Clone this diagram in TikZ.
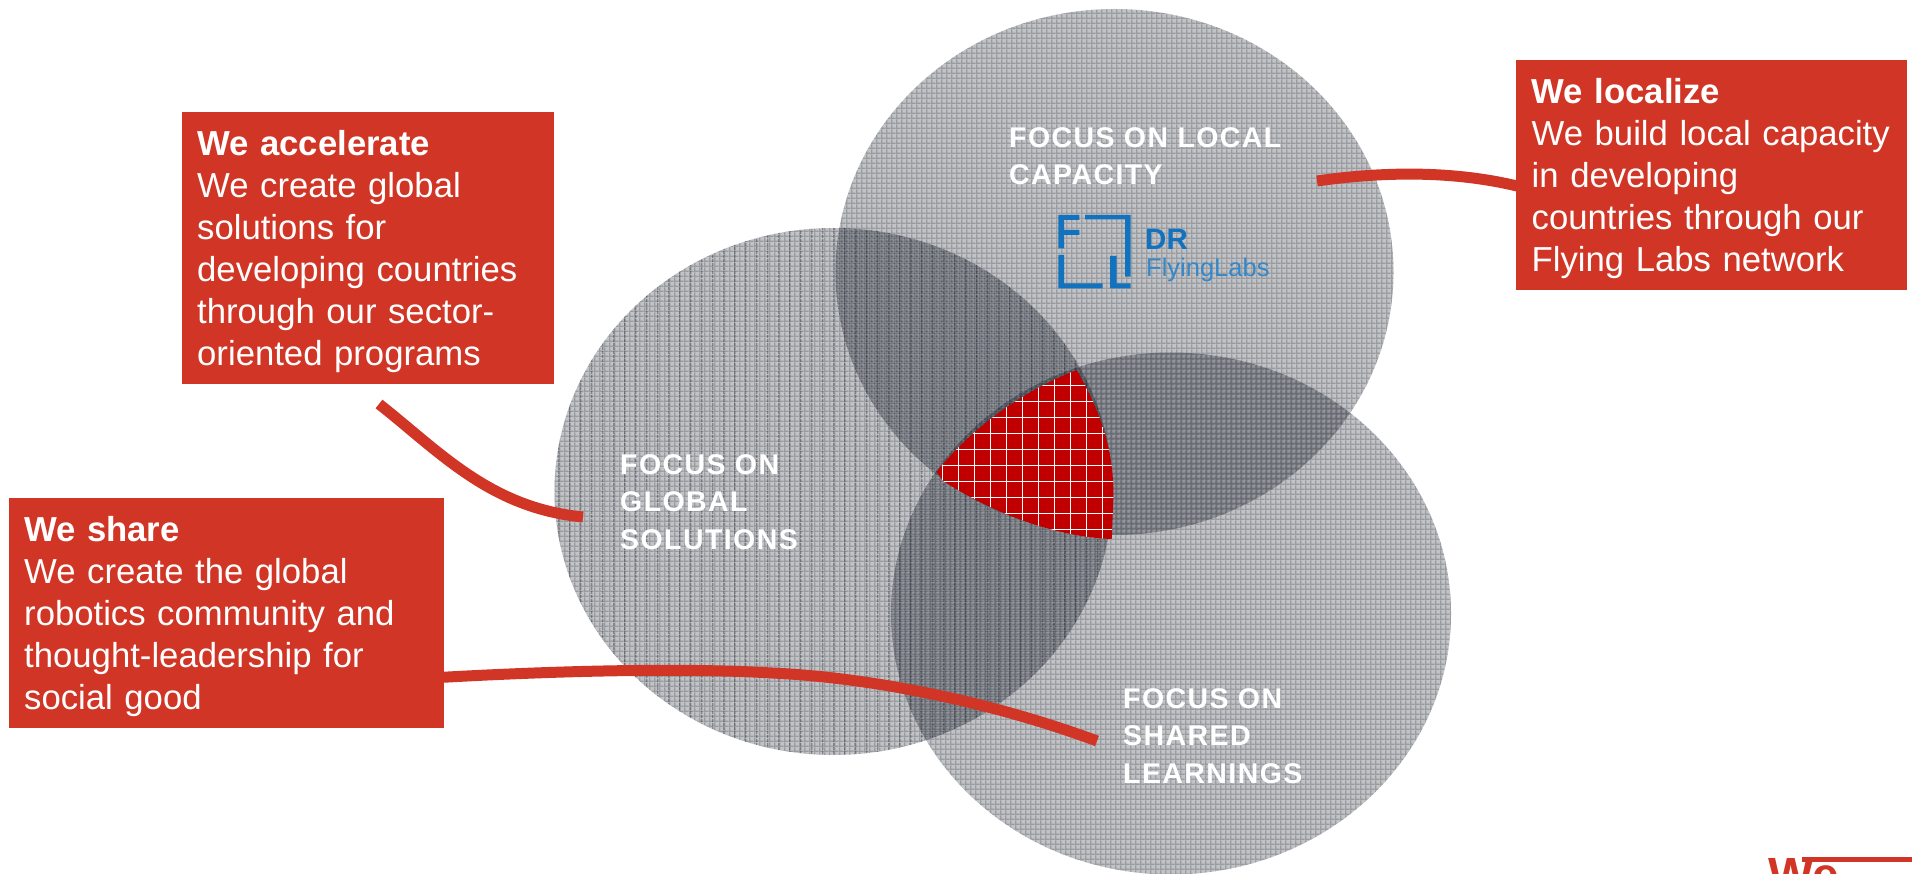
\documentclass[tikz,border=0pt]{standalone}
\usepackage{fontspec}
\setmainfont{Liberation Sans}
\usetikzlibrary{
  patterns
}
\definecolor{wrred}{RGB}{209,53,37}
\definecolor{vennred}{RGB}{192,0,0}
\definecolor{vennink}{RGB}{8,14,26}
\definecolor{logoblue}{RGB}{18,114,190}
\pgfdeclarepatternformonly{vennlattice}{\pgfqpoint{0pt}{0pt}}{\pgfqpoint{5.33pt}{5.33pt}}{\pgfqpoint{5.33pt}{5.33pt}}{
  \pgfpathrectangle{\pgfqpoint{0pt}{0pt}}{\pgfqpoint{5.33pt}{1.6pt}}
  \pgfpathrectangle{\pgfqpoint{0pt}{1.6pt}}{\pgfqpoint{1.6pt}{3.73pt}}
  \pgfusepath{fill}
}
\pgfdeclarepatternformonly{vennbars}{\pgfqpoint{0pt}{0pt}}{\pgfqpoint{11.4pt}{4pt}}{\pgfqpoint{11.4pt}{4pt}}{
  \pgfpathrectangle{\pgfqpoint{0pt}{0pt}}{\pgfqpoint{1.5pt}{4pt}}
  \pgfusepath{fill}
}
\newcommand{\boxhead}[1]{\rule{0pt}{31.5pt}\textbf{#1}}
\begin{document}
\begin{tikzpicture}[
  x=1pt, y=-1pt,
  wrbox/.style={fill=wrred, text=white, anchor=north west, align=left, inner ysep=0pt, inner xsep=15.5pt,
    font=\fontsize{34.7}{42}\selectfont},
  venn/.style={fill=vennink, fill opacity=.25},
  vennmesh/.style={pattern=vennlattice, pattern color=vennink, fill opacity=.22},
  focus/.style={text=white, anchor=north west, align=left, inner sep=0pt,
    font=\fontsize{28.5}{37.5}\selectfont\bfseries\addfontfeature{LetterSpace=5}},
  link/.style={draw=wrred, line width=11pt},
]
\useasboundingbox (0,0) rectangle (1912,874);
\clip (0,0) rectangle (1912,874);
% circles
\def\topcircle{(1114.5,272) ellipse [x radius=279pt, y radius=263pt]}
\def\leftcircle{(833.5,491.5) ellipse [x radius=279pt, y radius=263.5pt]}
\def\lowcircle{(1171,613.5) ellipse [x radius=280pt, y radius=261pt]}
\fill[venn] \topcircle;
\fill[vennmesh] \topcircle;
\fill[venn] \leftcircle;
\fill[vennmesh] \leftcircle;
\fill[pattern=vennbars, pattern color=vennink, fill opacity=.35] \leftcircle;
\fill[venn] \lowcircle;
\fill[vennmesh] \lowcircle;
% middle
\def\midshape{(1076.7,370) .. controls (1095,402) and (1115,445) .. (1113.3,500) -- (1111.7,539)
  .. controls (1060,537) and (1000,517) .. (943,481) -- (936.7,471.7)
  .. controls (970,430) and (1020,392) .. (1076.7,370) -- cycle}
\begin{scope}
  \clip \midshape;
  \fill[vennred] (920,360) rectangle (1130,560);
  \foreach \k in {0,...,11} {
    \draw[white, line width=1.5pt] (942.3+16*\k,360) -- (942.3+16*\k,560);
    \draw[white, line width=1.5pt] (920,369.7+16*\k) -- (1130,369.7+16*\k);
  }
\end{scope}
% boxes
\node[wrbox, minimum width=372pt, minimum height=272pt, text width=341pt] (accelerate) at (181.5,112) {%
  \boxhead{We accelerate}\\We create global\\solutions for\\developing countries\\through our sector-\\oriented programs};
\node[wrbox, minimum width=391pt, minimum height=230pt, text width=360pt] (localize) at (1516,60) {%
  \boxhead{We localize}\\We build local capacity\\in developing\\countries through our\\Flying Labs network};
\node[wrbox, minimum width=435.5pt, minimum height=230.5pt, text width=404.5pt] (share) at (8.5,497.5) {%
  \boxhead{We share}\\We create the global\\robotics community and\\thought-leadership for\\social good};
% focus labels
\node[focus] (localfocus) at (1009,127) {FOCUS ON LOCAL\\CAPACITY};
\node[focus] (globalfocus) at (620,454) {FOCUS ON\\GLOBAL\\SOLUTIONS};
\node[focus] (sharedfocus) at (1123,688) {FOCUS ON\\SHARED\\LEARNINGS};
% logo
\fill[logoblue] (1058.3,215) -| (1079.3,220) -| (1064,230) -| (1079.3,235) -| (1064,248.3) -| cycle;
\fill[logoblue] (1085,215) -| (1130.7,276.7) -| (1125,219.5) -| cycle;
\fill[logoblue] (1058.3,255) -| (1064,283.3) -| (1102.7,288.3) -| cycle;
\fill[logoblue] (1110,256) -| (1116.7,283.3) -| (1130.7,288.3) -| cycle;
\node[text=logoblue, anchor=base west, inner sep=0pt, font=\fontsize{29.5}{30}\selectfont\bfseries] (logodr) at (1145,249.3) {DR};
\node[text=logoblue!85!white, anchor=base west, inner sep=0pt, font=\fontsize{25.5}{30}\selectfont] (logolabs) at (1146,276.7) {FlyingLabs};
% connectors
\coordinate (localizestart) at (1317,181);
\coordinate (localizeend) at (1517,186);
\coordinate (acceleratestart) at (379,404);
\coordinate (accelerateend) at (583,517);
\coordinate (sharestart) at (414,679);
\coordinate (sharemid) at (772,673);
\coordinate (shareend) at (1097,741);
\draw[link] (localizestart) .. controls (1380,172) and (1450,170) .. (localizeend);
\draw[link] (acceleratestart) .. controls (440,452) and (490,508) .. (accelerateend);
\draw[link] (sharestart) .. controls (560,670) and (690,668) .. (sharemid) .. controls (880,678) and (1000,705) .. (shareend);
% corner
\node[text=wrred, anchor=base west, inner sep=0pt, font=\fontsize{48}{50}\selectfont\bfseries] (cornerwe) at (1768,891) {We};
\coordinate (cornerleft) at (1802,859.5);
\coordinate (cornerright) at (1912,859.5);
\draw[wrred, line width=5pt] (cornerleft) -- (cornerright);
\end{tikzpicture}
\end{document}
